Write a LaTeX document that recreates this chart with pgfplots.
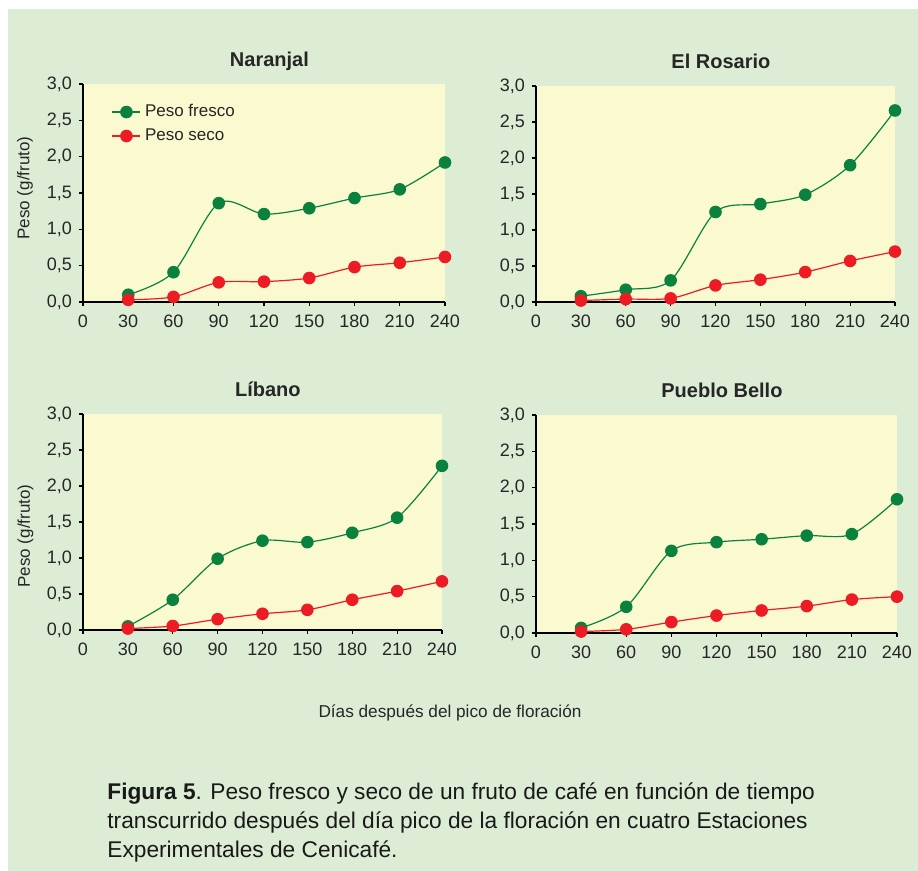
\documentclass[border=0pt]{standalone}
\usepackage{pgfplots}
\pgfplotsset{compat=1.18}
\usepackage{fontspec}
\setmainfont{Liberation Sans}
\definecolor{bggreen}{RGB}{221,237,213}
\definecolor{plotyellow}{RGB}{250,249,208}
\definecolor{fgreen}{RGB}{10,130,62}
\definecolor{sred}{RGB}{237,28,36}
\pgfplotsset{
  panel/.style={
    scale only axis, clip=false,
    xmin=0, xmax=240, ymin=0, ymax=3,
    axis lines=left, axis line style={-, black, line width=0.8pt},
    axis background/.style={fill=plotyellow},
    xtick={0,30,...,240}, ytick={0,0.5,...,3},
    tick align=outside, major tick length=2pt,
    tick style={black, line width=0.6pt},
    /pgf/number format/assume math mode=true,
    yticklabel style={/pgf/number format/.cd, fixed, fixed zerofill, precision=1, use comma},
    xticklabel style={yshift=-1pt},
    tick label style={font=\fontsize{9}{10}\selectfont, text=black!85},
    title style={font=\bfseries\fontsize{10}{12}\selectfont, at={(0.515,1)}, anchor=base, yshift=2.5pt, text=black!85},
  },
  fresco/.style={color=fgreen, line width=0.6pt, smooth, tension=0.5, mark=*, mark size=2.85pt, mark options={fill=fgreen, draw=fgreen}},
  seco/.style={color=sred, line width=0.6pt, smooth, tension=0.5, mark=*, mark size=2.85pt, mark options={fill=sred, draw=sred}},
  ylab/.style={ylabel={Peso (g/fruto)}, every axis y label/.style={at={(axis description cs:-0.16,#1)}, anchor=center, rotate=90, font=\fontsize{8.5}{10}\selectfont, text=black!85}},
}
\begin{document}
\begin{tikzpicture}
\useasboundingbox (0,0) rectangle (459pt,-435.5pt);
\fill[white] (0,0) rectangle (459pt,-435.5pt);
\fill[bggreen] (4pt,-4.5pt) rectangle (459pt,-435.5pt);

% Naranjal
\begin{axis}[panel, ylab=0.523, at={(41.5pt,-42pt)}, anchor=north west, width=181pt, height=109pt, title={Naranjal},
  legend style={at={(rel axis cs:0.062,0.945)}, anchor=north west, draw=none, fill=none, font=\fontsize{8.5}{10}\selectfont, row sep=0.5pt, text=black!85},
  legend cell align=left,
  legend image code/.code={\draw[mark repeat=2,mark phase=2,#1] plot coordinates {(0pt,0pt) (7pt,0pt) (14pt,0pt)};}]
\addplot[fresco] coordinates {(30,0.10)(60,0.41)(90,1.36)(120,1.21)(150,1.29)(180,1.43)(210,1.55)(240,1.92)};
\addlegendentry{Peso fresco}
\addplot[seco] coordinates {(30,0.03)(60,0.07)(90,0.27)(120,0.28)(150,0.33)(180,0.48)(210,0.54)(240,0.62)};
\addlegendentry{Peso seco}
\end{axis}

% El Rosario
\begin{axis}[panel, at={(268pt,-43pt)}, anchor=north west, width=179.5pt, height=108pt, title={El Rosario}]
\addplot[fresco] coordinates {(30,0.08)(60,0.17)(90,0.30)(120,1.25)(150,1.36)(180,1.49)(210,1.90)(240,2.66)};
\addplot[seco] coordinates {(30,0.02)(60,0.04)(90,0.05)(120,0.23)(150,0.31)(180,0.415)(210,0.57)(240,0.70)};
\end{axis}

% Libano
\begin{axis}[panel, ylab=0.435, at={(41.5pt,-207pt)}, anchor=north west, width=179.5pt, height=108pt, title={Líbano}]
\addplot[fresco] coordinates {(30,0.05)(60,0.42)(90,0.99)(120,1.24)(150,1.22)(180,1.35)(210,1.56)(240,2.28)};
\addplot[seco] coordinates {(30,0.02)(60,0.055)(90,0.15)(120,0.225)(150,0.28)(180,0.42)(210,0.54)(240,0.675)};
\end{axis}

% Pueblo Bello
\begin{axis}[panel, at={(268pt,-207.5pt)}, anchor=north west, width=180.5pt, height=109pt, title={Pueblo Bello}]
\addplot[fresco] coordinates {(30,0.07)(60,0.36)(90,1.13)(120,1.25)(150,1.29)(180,1.34)(210,1.36)(240,1.84)};
\addplot[seco] coordinates {(30,0.02)(60,0.05)(90,0.15)(120,0.24)(150,0.31)(180,0.37)(210,0.46)(240,0.50)};
\end{axis}

\node[font=\fontsize{8.6}{10}\selectfont, text=black!85] at (225pt,-356.5pt) {Días después del pico de floración};
\node[anchor=west, font=\fontsize{11.35}{14.5}\selectfont, align=left, text=black!90, inner sep=0pt] at (53.5pt,-411.5pt)
  {\textbf{Figura 5}. Peso fresco y seco de un fruto de café en función de tiempo\\
   transcurrido después del día pico de la floración en cuatro Estaciones\\
   Experimentales de Cenicafé.};
\end{tikzpicture}
\end{document}
